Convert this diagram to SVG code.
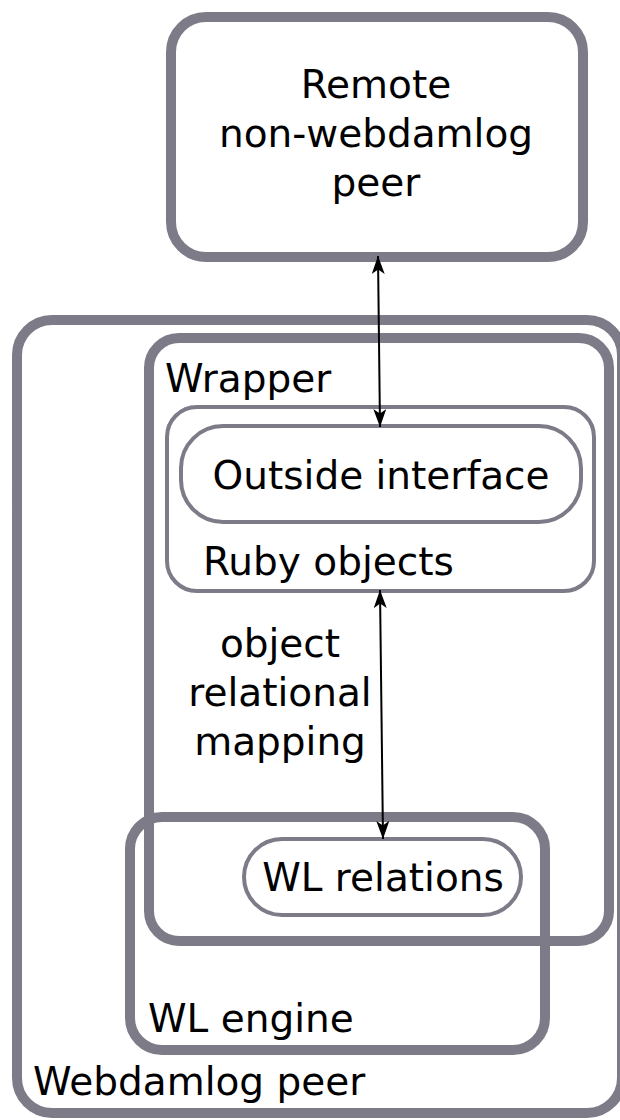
<svg xmlns="http://www.w3.org/2000/svg" width="620" height="1120" viewBox="0 0 620 1120">
<style>
.thick{fill:none;stroke:#7c7b87;stroke-width:10}
.thin{fill:none;stroke:#7c7b87;stroke-width:4}
text{font-family:"DejaVu Sans",sans-serif;font-size:39px;fill:#000}
.c{text-anchor:middle}
.conn{stroke:#000;stroke-width:2;fill:none;marker-start:url(#a);marker-end:url(#a)}
</style>
<defs>
<marker id="a" viewBox="0 0 10 10" refX="10" refY="5" markerWidth="18" markerHeight="13" markerUnits="userSpaceOnUse" orient="auto-start-reverse" preserveAspectRatio="none">
<path d="M0,0 L10,5 L0,10 L2.5,5 z" fill="#000"/>
</marker>
</defs>
<rect width="620" height="1120" fill="#fff"/>
<g id="remote">
<rect class="thick" x="171" y="17" width="412" height="240" rx="35"/>
<text class="c" x="376" y="98">Remote</text>
<text class="c" x="376" y="147">non-webdamlog</text>
<text class="c" x="376" y="196">peer</text>
</g>
<g id="webdamlog-peer">
<rect class="thick" x="17" y="320" width="605" height="793" rx="35"/>
<text x="33" y="1095">Webdamlog peer</text>
</g>
<g id="wl-engine">
<rect class="thick" x="130" y="817" width="415" height="233" rx="32"/>
<text x="148" y="1032">WL engine</text>
</g>
<g id="wrapper">
<rect class="thick" x="149" y="338" width="460" height="603" rx="30"/>
<text x="165" y="392">Wrapper</text>
</g>
<g id="ruby-objects">
<rect class="thin" x="167" y="407" width="427" height="184" rx="30"/>
<text x="203" y="575">Ruby objects</text>
</g>
<g id="outside-interface">
<rect class="thin" x="181" y="426" width="400" height="96" rx="42"/>
<text class="c" x="381" y="489">Outside interface</text>
</g>
<g id="wl-relations">
<rect class="thin" x="244" y="839" width="277" height="76" rx="38"/>
<text class="c" x="383" y="891">WL relations</text>
</g>
<g id="labels">
<text class="c" x="280" y="657">object</text>
<text class="c" x="280" y="706">relational</text>
<text class="c" x="280" y="755">mapping</text>
</g>
<g id="connectors">
<line class="conn" x1="378" y1="256" x2="380" y2="427"/>
<line class="conn" x1="380" y1="590" x2="383" y2="839"/>
</g>
</svg>
